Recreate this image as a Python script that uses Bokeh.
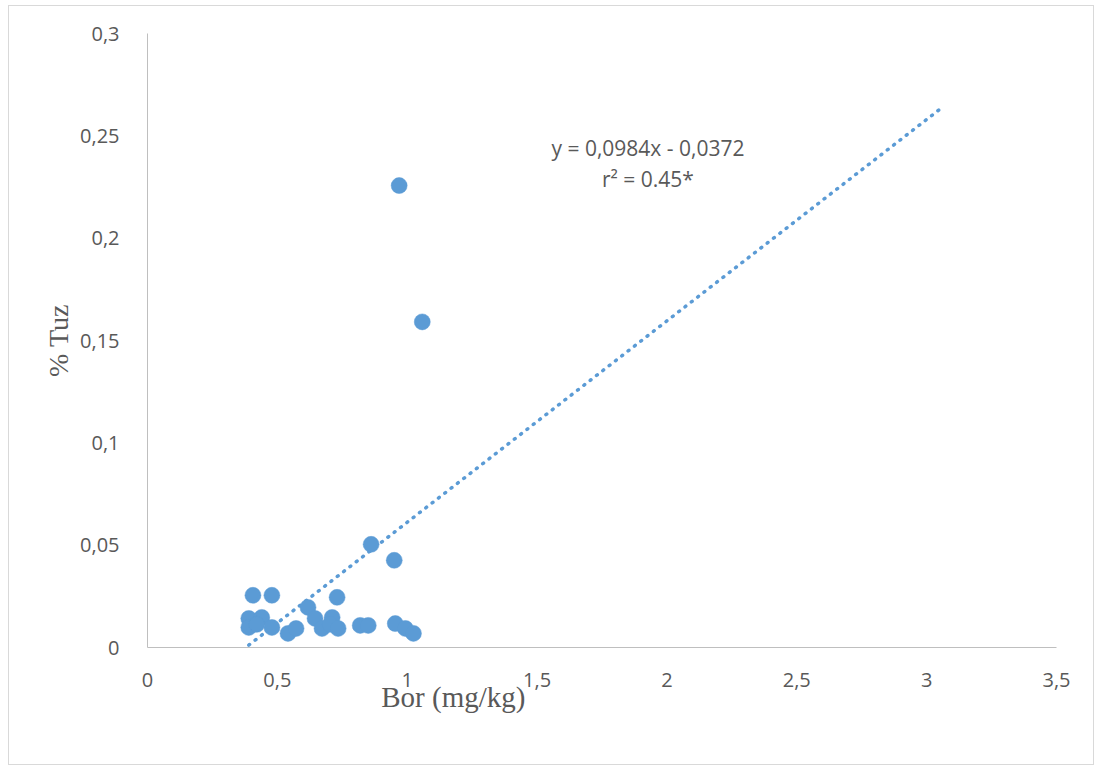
from bokeh.plotting import figure
from bokeh.models import FixedTicker, CustomJSTickFormatter, Label, ColumnDataSource, Range1d
from bokeh.embed import file_html
from bokeh.resources import INLINE

# Data
bor = [0.969, 1.058, 0.861, 0.950, 0.730, 0.618, 0.406, 0.479, 0.390, 0.440,
       0.390, 0.421, 0.479, 0.541, 0.572, 0.645, 0.672, 0.711, 0.703, 0.734,
       0.819, 0.850, 0.954, 0.993, 1.024]
tuz = [0.2257, 0.1591, 0.0504, 0.0426, 0.0245, 0.0196, 0.0255, 0.0255, 0.0142, 0.0147,
       0.0098, 0.0113, 0.0098, 0.0069, 0.0093, 0.0142, 0.0093, 0.0147, 0.0113, 0.0093,
       0.0108, 0.0108, 0.0117, 0.0093, 0.0069]

slope = 0.0984
intercept = -0.0372
forecast_forward = 2.0

x_ticks = [0, 0.5, 1, 1.5, 2, 2.5, 3, 3.5]
y_ticks = [0, 0.05, 0.1, 0.15, 0.2, 0.25, 0.3]

eq_text = "y = 0,0984x - 0,0372"
r2_text = "r\u00b2 = 0.45*"
x_title = "Bor (mg/kg)"
y_title = "% Tuz"

grey = "#595959"
blue = "#5b9bd5"

p = figure(width=1086, height=760, output_backend="svg", toolbar_location=None,
           x_range=Range1d(0, 3.5), y_range=Range1d(0, 0.3),
           min_border_left=138, min_border_right=39, min_border_top=27, min_border_bottom=119)
p.styles = {"border": "1px solid #d9d9d9", "margin-left": "8px", "margin-top": "5px"}
p.outline_line_color = None
p.xgrid.grid_line_color = None
p.ygrid.grid_line_color = None

fmt = CustomJSTickFormatter(code="return String(Number(tick.toFixed(2))).replace('.', ',');")
for ax, ticks in ((p.xaxis[0], x_ticks), (p.yaxis[0], y_ticks)):
    ax.ticker = FixedTicker(ticks=ticks)
    ax.formatter = fmt
    ax.major_tick_line_color = None
    ax.minor_tick_line_color = None
    ax.axis_line_color = "#bfbfbf"
    ax.axis_line_width = 1
    ax.major_label_text_font = "Open Sans"
    ax.major_label_text_font_size = "20px"
    ax.major_label_text_color = grey
    ax.axis_label_text_font = "Liberation Serif"
    ax.axis_label_text_font_style = "normal"
    ax.axis_label_text_color = grey
p.xaxis[0].major_label_standoff = 19
p.yaxis[0].major_label_standoff = 22

# x title sits left of the frame centre in the original: pad with no-break spaces
p.xaxis[0].axis_label = x_title + "\u00a0" * 41
p.xaxis[0].axis_label_text_font_size = "29px"
p.xaxis[0].axis_label_standoff = -9
p.yaxis[0].axis_label = y_title
p.yaxis[0].axis_label_text_font_size = "28px"
p.yaxis[0].axis_label_standoff = 3

# trendline (Excel-style, extended forward)
x0 = min(bor)
x1 = max(bor) + forecast_forward
tx = [x0, x1]
ty = [slope * v + intercept for v in tx]
p.line(tx, ty, line_color=blue, line_width=3.5, line_dash="1 7", line_cap="round")

src = ColumnDataSource(dict(x=bor, y=tuz))
p.scatter("x", "y", source=src, size=16, fill_color=blue, line_color=blue, line_width=0.5)

p.add_layout(Label(x=1.927, y=0.2442, text=eq_text, text_align="center", text_baseline="middle",
                   text_font="Open Sans", text_font_size="21px", text_color=grey))
p.add_layout(Label(x=1.927, y=0.2288, text=r2_text, text_align="center", text_baseline="middle",
                   text_font="Open Sans", text_font_size="21px", text_color=grey))

open("out.html", "w").write(file_html(p, INLINE))
